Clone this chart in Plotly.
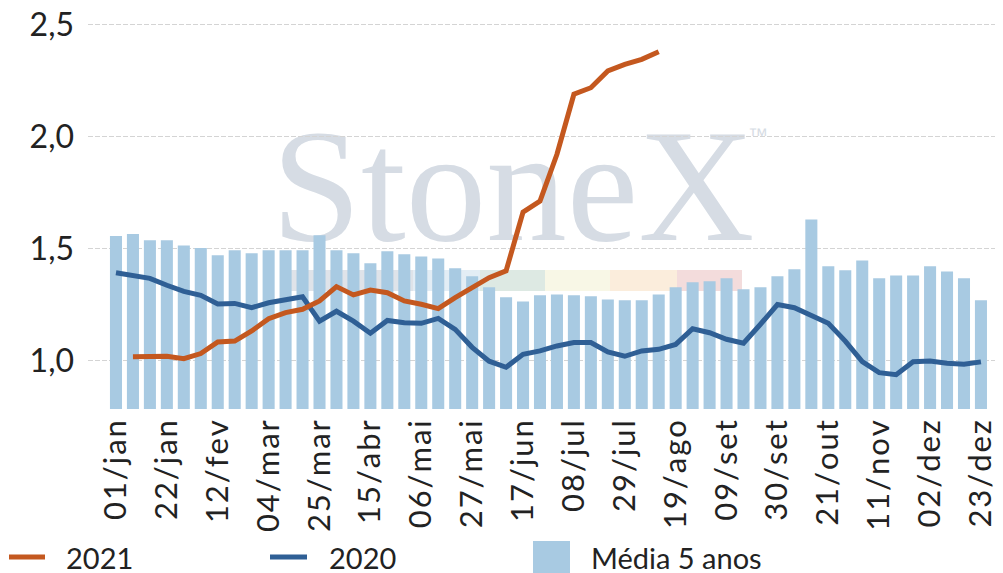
import plotly.graph_objects as go

# ---------------- data ----------------
tick_labels = ["01/jan", "22/jan", "12/fev", "04/mar", "25/mar", "15/abr", "06/mai",
               "27/mai", "17/jun", "08/jul", "29/jul", "19/ago", "09/set", "30/set",
               "21/out", "11/nov", "02/dez", "23/dez"]

media_5_anos = [1.555, 1.564, 1.536, 1.536, 1.513, 1.501, 1.469, 1.491, 1.478, 1.491,
                1.491, 1.491, 1.558, 1.491, 1.478, 1.433, 1.487, 1.473, 1.464, 1.455,
                1.411, 1.375, 1.326, 1.281, 1.263, 1.290, 1.294, 1.290, 1.286, 1.272,
                1.268, 1.268, 1.294, 1.326, 1.348, 1.353, 1.366, 1.317, 1.326, 1.375,
                1.406, 1.629, 1.420, 1.402, 1.446, 1.366, 1.379, 1.379, 1.420, 1.397,
                1.366, 1.268]

ano_2020 = [1.391, 1.376, 1.366, 1.335, 1.308, 1.290, 1.251, 1.254, 1.235, 1.257,
            1.269, 1.284, 1.175, 1.219, 1.175, 1.121, 1.178, 1.168, 1.165, 1.187,
            1.138, 1.058, 0.996, 0.969, 1.027, 1.042, 1.064, 1.079, 1.079, 1.037,
            1.018, 1.042, 1.049, 1.071, 1.141, 1.123, 1.094, 1.076, 1.161, 1.249,
            1.235, 1.198, 1.165, 1.086, 0.994, 0.945, 0.936, 0.994, 0.997, 0.987,
            0.982, 0.993]

ano_2021 = [None, 1.016, 1.018, 1.018, 1.007, 1.030, 1.082, 1.086, 1.131, 1.186,
            1.213, 1.228, 1.265, 1.329, 1.292, 1.314, 1.302, 1.265, 1.250, 1.231,
            1.280, 1.324, 1.369, 1.399, 1.662, 1.711, 1.920, 2.188, 2.217, 2.292,
            2.321, 2.344, 2.378]

# ---------------- style ----------------
C_BAR = "#a8cae2"
C_2021 = "#c4581f"
C_2020 = "#2f5f95"
FONT = "Lato, 'Noto Sans', sans-serif"
OFF = 8                      # page body margin of the html page
W, H = 1003 - OFF, 573 - OFF
PL, PT, PB = 88, 10, 409     # plot area edges in screen pixels
ML, MR, MT, MB = PL - OFF, 0, PT - OFF, H - (PB - OFF)
PW, PH = W - ML - MR, H - MT - MB


def px(x):
    return (x - PL) / PW


def py(y):
    return (PB - y) / PH


HS = "\u200a"
spaced_labels = [HS.join(t) for t in tick_labels]

weeks = list(range(len(media_5_anos)))

fig = go.Figure()
fig.add_trace(go.Bar(x=weeks, y=media_5_anos, marker=dict(color=C_BAR, line=dict(width=0)),
                     name="Média 5 anos", showlegend=False))
fig.add_trace(go.Scatter(x=weeks, y=ano_2020, mode="lines", name="2020",
                         line=dict(color=C_2020, width=5), showlegend=False))
fig.add_trace(go.Scatter(x=weeks[:len(ano_2021)], y=ano_2021, mode="lines", name="2021",
                         line=dict(color=C_2021, width=5), showlegend=False))

shapes = []
# watermark bands (below grid)
bands = [(290, 413, "#dfe3e9"), (413, 480, "#e3edf5"), (480, 545, "#dde9e3"),
         (545, 610, "#f8f7e6"), (610, 677, "#fbeddc"), (677, 742, "#f3dcdc")]
for x0, x1, c in bands:
    shapes.append(dict(type="rect", xref="paper", yref="paper", x0=px(x0), x1=px(x1),
                       y0=py(291), y1=py(270), fillcolor=c, line=dict(width=0), layer="below"))
# watermark text
shapes.append(dict(type="rect", xref="paper", yref="paper", x0=px(283), x1=px(743),
                   y0=py(244), y1=py(92), line=dict(width=0), fillcolor="rgba(0,0,0,0)",
                   layer="below",
                   label=dict(text="StoneX", font=dict(family="'Liberation Serif', serif",
                                                       size=161, color="#d6dce4"),
                              textposition="middle center")))
shapes.append(dict(type="rect", xref="paper", yref="paper", x0=px(746), x1=px(770),
                   y0=py(142), y1=py(124), line=dict(width=0), fillcolor="rgba(0,0,0,0)",
                   layer="below",
                   label=dict(text="™", font=dict(family="'Liberation Sans', sans-serif",
                                                  size=20, color="#d6dce4"),
                              textposition="middle center")))

# manual legend
LY = 557
shapes.append(dict(type="line", xref="paper", yref="paper", x0=px(9), x1=px(45),
                   y0=py(LY), y1=py(LY), line=dict(color=C_2021, width=5)))
shapes.append(dict(type="line", xref="paper", yref="paper", x0=px(270), x1=px(307),
                   y0=py(LY), y1=py(LY), line=dict(color=C_2020, width=5)))
shapes.append(dict(type="rect", xref="paper", yref="paper", x0=px(533), x1=px(570),
                   y0=py(576), y1=py(541), fillcolor=C_BAR, line=dict(width=0)))

annotations = []
for xx, t in [(64, "2021"), (327, "2020"), (589, "Média 5 anos")]:
    annotations.append(dict(xref="paper", yref="paper", x=px(xx), y=py(LY), text=t,
                            showarrow=False, xanchor="left", yanchor="middle",
                            height=28, valign="middle",
                            font=dict(family=FONT, size=29, color="#222222")))

fig.update_layout(
    width=W, height=H,
    margin=dict(l=ML, r=MR, t=MT, b=MB, autoexpand=False),
    paper_bgcolor="white", plot_bgcolor="white",
    separators=",.",
    bargap=0.29,
    showlegend=False,
    shapes=shapes,
    annotations=annotations,
    xaxis=dict(range=[-1.65, 52.3], tickmode="array",
               tickvals=weeks[::3], ticktext=spaced_labels,
               tickangle=-90, showgrid=False, zeroline=False, showline=False,
               ticks="", ticklabelstandoff=4, automargin=False,
               ticklabeloverflow="allow",
               tickfont=dict(family=FONT, size=31, color="#222222")),
    yaxis=dict(range=[0.7826, 2.564], tickvals=[1.0, 1.5, 2.0, 2.5], tickformat=".1f",
               showgrid=True, gridcolor="#d4d4d4", gridwidth=1, griddash="5px,2px",
               zeroline=False, showline=False, ticks="", ticklabelstandoff=13,
               automargin=False, ticklabeloverflow="allow",
               tickfont=dict(family=FONT, size=32, color="#222222")),
)

fig.write_html("out.html")
